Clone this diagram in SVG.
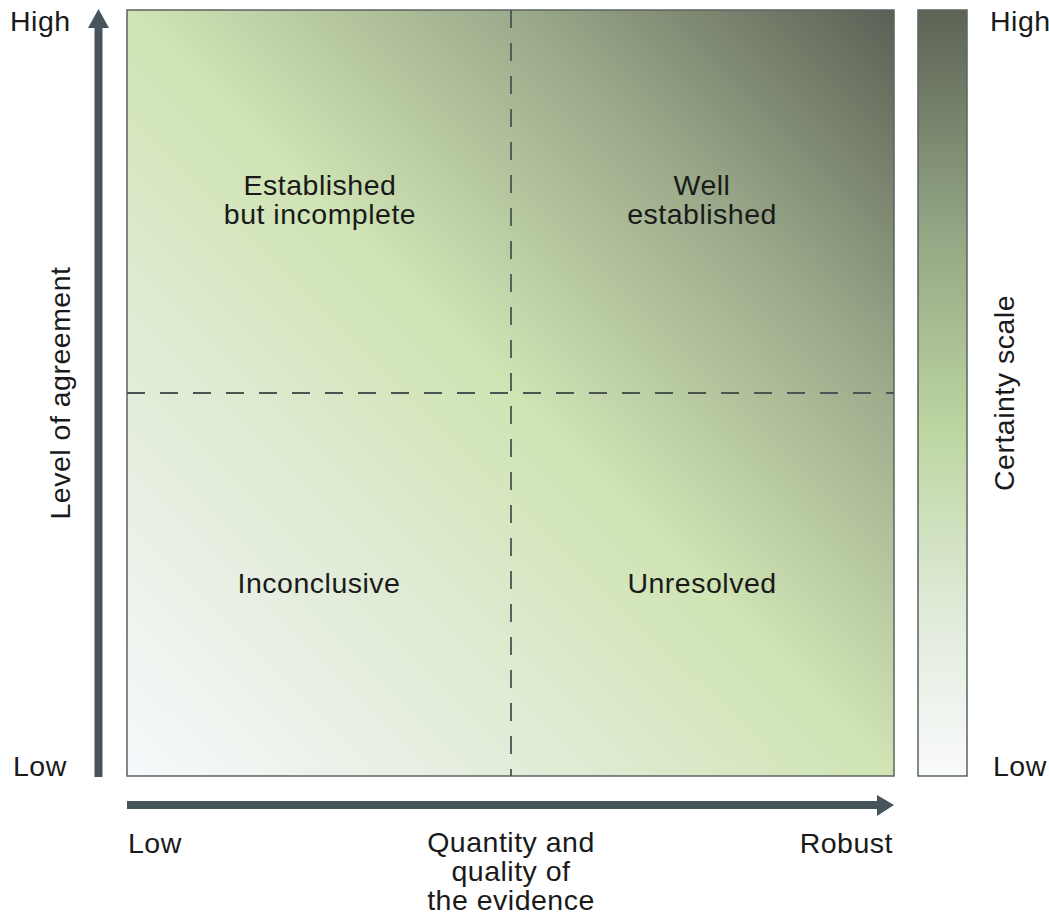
<svg xmlns="http://www.w3.org/2000/svg" width="1049" height="915" viewBox="0 0 1049 915">
  <defs>
    <linearGradient id="gMain" x1="0" y1="1" x2="1" y2="0">
      <stop offset="0" stop-color="#f6f9fc"/>
      <stop offset="0.25" stop-color="#e3eddb"/>
      <stop offset="0.5" stop-color="#d0e4b4"/>
      <stop offset="0.75" stop-color="#9cab8b"/>
      <stop offset="1" stop-color="#5b6055"/>
    </linearGradient>
    <linearGradient id="gBar" x1="0" y1="1" x2="0" y2="0">
      <stop offset="0" stop-color="#f9fafc"/>
      <stop offset="0.2" stop-color="#e2ecdc"/>
      <stop offset="0.45" stop-color="#bdd6a1"/>
      <stop offset="0.7" stop-color="#95a885"/>
      <stop offset="1" stop-color="#5d6356"/>
    </linearGradient>
    <style>
      .t { font-family: "Liberation Sans", Arial, Helvetica, sans-serif; font-size: 28.5px; letter-spacing: 0.5px; fill: #1a1a1a; }
      .m { text-anchor: middle; }
      .e { text-anchor: end; }
      .box { stroke: #5b6360; stroke-width: 1.5; }
      .dash { stroke: #4a5552; stroke-width: 1.8; stroke-dasharray: 18 15; fill: none; }
      .arrow { fill: #48545c; }
    </style>
  </defs>

  <g id="chart">
    <rect class="box" x="127" y="10" width="767" height="766" fill="url(#gMain)"/>
  </g>

  <g id="scale">
    <rect class="box" x="918" y="10" width="49" height="766" fill="url(#gBar)"/>
    <text class="t" x="990" y="31">High</text>
    <text class="t" x="993" y="776">Low</text>
    <text class="t m" transform="translate(1014 393) rotate(-90)">Certainty scale</text>
  </g>

  <g id="connectors">
    <line class="dash" x1="511" y1="10" x2="511" y2="776"/>
    <line class="dash" x1="127" y1="393" x2="894" y2="393"/>
    <path class="arrow" d="M94.5 777 V28 H88 L98.5 9 L109 28 H102.5 V777 Z"/>
    <path class="arrow" d="M127 801 H877 V795 L894 805 L877 816 V809 H127 Z"/>
  </g>

  <g id="q-established">
    <text class="t m" x="320" y="195">Established</text>
    <text class="t m" x="320" y="224">but incomplete</text>
  </g>
  <g id="q-well">
    <text class="t m" x="702" y="195">Well</text>
    <text class="t m" x="702" y="224">established</text>
  </g>
  <g id="q-inconclusive">
    <text class="t m" x="319" y="593">Inconclusive</text>
  </g>
  <g id="q-unresolved">
    <text class="t m" x="702" y="593">Unresolved</text>
  </g>

  <g id="y-axis-labels">
    <text class="t" x="10" y="31">High</text>
    <text class="t" x="13" y="776">Low</text>
    <text class="t m" transform="translate(70 393) rotate(-90)">Level of agreement</text>
  </g>

  <g id="x-axis-labels">
    <text class="t" x="128" y="853">Low</text>
    <text class="t e" x="893" y="853">Robust</text>
    <text class="t m" x="511" y="852">Quantity and</text>
    <text class="t m" x="511" y="881">quality of</text>
    <text class="t m" x="511" y="910">the evidence</text>
  </g>
</svg>
